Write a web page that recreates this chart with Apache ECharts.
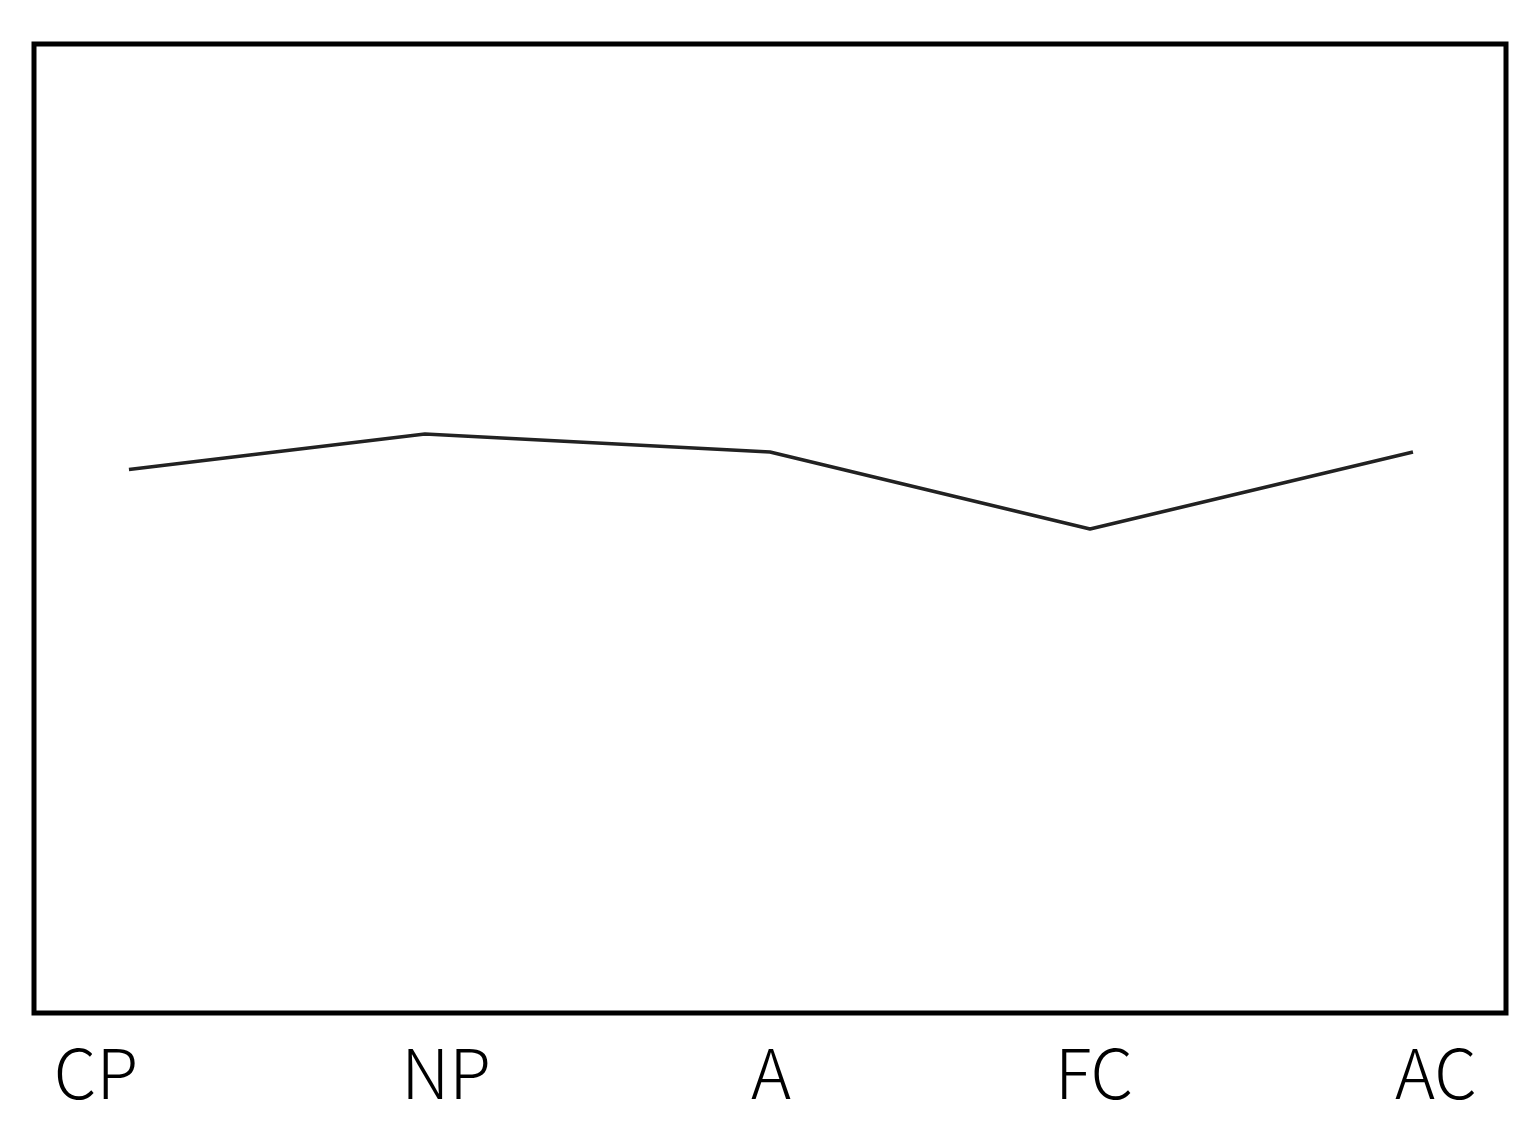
<!DOCTYPE html>
<html>
<head>
<meta charset="utf-8">
<script src="https://cdn.jsdelivr.net/npm/echarts@6/dist/echarts.min.js"></script>
<style>html,body{margin:0;padding:0;background:#fff;}#c{width:1536px;height:1129px;}</style>
</head>
<body>
<div id="c"></div>
<script>
var categories = ['CP', 'NP', 'A', 'FC', 'AC'];
var pointX = [6.45, 26.56, 50.0, 71.74, 93.68];
var values = [56.1, 59.75, 57.9, 49.95, 57.9];
var labelX = [4.21, 27.99, 50.07, 72.01, 95.24];

var lineData = pointX.map(function (x, i) { return [x, values[i]]; });
var chart = echarts.init(document.getElementById('c'), null, { renderer: 'canvas' });
chart.setOption({
  animation: false,
  grid: { left: 34, top: 44, width: 1472, height: 969, show: true, borderColor: '#000', borderWidth: 5, backgroundColor: 'transparent' },
  xAxis: {
    type: 'value', min: 0, max: 100,
    axisLine: { show: false }, axisTick: { show: false }, splitLine: { show: false },
    axisLabel: {
      customValues: labelX,
      margin: 26,
      fontSize: 68,
      lineHeight: 68,
      fontWeight: 300,
      color: '#000',
      fontFamily: '"Noto Sans CJK JP", "Noto Sans", sans-serif',
      formatter: function (v) {
        var best = 0, d = Infinity;
        for (var i = 0; i < labelX.length; i++) { var dd = Math.abs(labelX[i] - v); if (dd < d) { d = dd; best = i; } }
        return categories[best];
      }
    }
  },
  yAxis: { type: 'value', min: 0, max: 100, show: false, splitLine: { show: false } },
  series: [{
    type: 'line', data: lineData, symbol: 'none',
    lineStyle: { color: '#222', width: 3.5 }
  }]
});
</script>
</body>
</html>
